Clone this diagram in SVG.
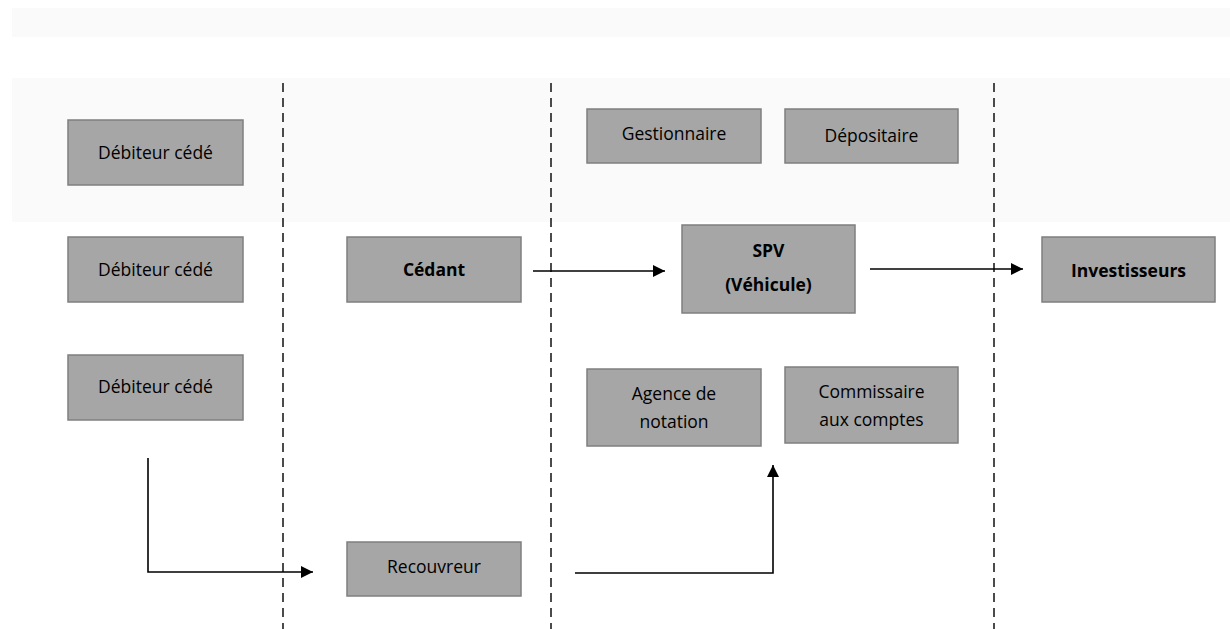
<svg xmlns="http://www.w3.org/2000/svg" width="1230" height="629" viewBox="0 0 1230 629">
<defs>
<marker id="ah" viewBox="0 0 10 10" refX="10" refY="5" markerWidth="12" markerHeight="12" markerUnits="userSpaceOnUse" orient="auto">
<path d="M0,0 L10,5 L0,10 z" fill="#000"/>
</marker>
<style>
.box{fill:#a6a6a6;stroke:#7f7f7f;stroke-width:1.5}
.t{font-family:"Open Sans","Liberation Sans",sans-serif;font-size:17.5px;fill:#000;text-anchor:middle;dominant-baseline:central}
.b{font-weight:bold}
.dash{stroke:#111;stroke-width:1.5;stroke-dasharray:9 6;fill:none}
.ln{stroke:#000;stroke-width:1.6;fill:none}
.bg{fill:#fafafa}
</style>
</defs>
<rect width="1230" height="629" fill="#fff"/>
<rect class="bg" x="12" y="8" width="1218" height="29"/>
<rect class="bg" x="12" y="78" width="1218" height="144"/>
<g id="separators">
<line class="dash" x1="283" y1="83" x2="283" y2="629"/>
<line class="dash" x1="551" y1="83" x2="551" y2="629"/>
<line class="dash" x1="994" y1="83" x2="994" y2="629"/>
</g>
<g id="debiteur1"><rect class="box" x="68" y="120" width="175" height="65"/><text class="t" x="155.5" y="152">Débiteur cédé</text></g>
<g id="debiteur2"><rect class="box" x="68" y="237" width="175" height="65"/><text class="t" x="155.5" y="269">Débiteur cédé</text></g>
<g id="debiteur3"><rect class="box" x="68" y="355" width="175" height="65"/><text class="t" x="155.5" y="386">Débiteur cédé</text></g>
<g id="cedant"><rect class="box" x="347" y="237" width="174" height="65"/><text class="t b" x="434" y="269">Cédant</text></g>
<g id="recouvreur"><rect class="box" x="347" y="542" width="174" height="54"/><text class="t" x="434" y="566">Recouvreur</text></g>
<g id="gestionnaire"><rect class="box" x="587" y="109" width="174" height="54"/><text class="t" x="674" y="133">Gestionnaire</text></g>
<g id="depositaire"><rect class="box" x="785" y="109" width="173" height="54"/><text class="t" x="871.5" y="135">Dépositaire</text></g>
<g id="spv"><rect class="box" x="682" y="225" width="173" height="88"/><text class="t b" x="768.5" y="250">SPV</text><text class="t b" x="768.5" y="284">(Véhicule)</text></g>
<g id="agence"><rect class="box" x="587" y="369" width="174" height="77"/><text class="t" x="674" y="393">Agence de</text><text class="t" x="674" y="421">notation</text></g>
<g id="commissaire"><rect class="box" x="785" y="367" width="173" height="76"/><text class="t" x="871.5" y="391">Commissaire</text><text class="t" x="871.5" y="419">aux comptes</text></g>
<g id="investisseurs"><rect class="box" x="1042" y="237" width="173" height="65"/><text class="t b" x="1128.5" y="270">Investisseurs</text></g>
<g id="connectors">
<path class="ln" d="M533,271 L665,271" marker-end="url(#ah)"/>
<path class="ln" d="M870,269 L1023,269" marker-end="url(#ah)"/>
<path class="ln" d="M148,458 L148,572 L313,572" marker-end="url(#ah)"/>
<path class="ln" d="M575,573 L773,573 L773,465" marker-end="url(#ah)"/>
</g>
</svg>
